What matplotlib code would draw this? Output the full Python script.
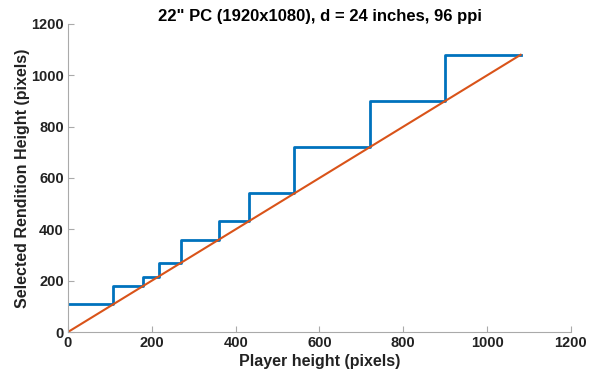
import matplotlib
matplotlib.use("Agg")
import matplotlib.pyplot as plt
import numpy as np

plt.rcParams['font.family'] = ['Liberation Sans', 'DejaVu Sans']
plt.rcParams['font.weight'] = 'bold'

player_height = [0, 108, 180, 216, 270, 360, 432, 540, 720, 900, 1080]
rendition_height = [108, 180, 216, 270, 360, 432, 540, 720, 900, 1080, 1080]
diag = [0, 1080]

fig = plt.figure(figsize=(5.98, 3.79), dpi=100)
ax = fig.add_axes([0.1137, 0.124, 0.841, 0.8127])
ax.step(player_height, rendition_height, where='post', color='#0072BD', lw=2.0)
ax.plot(diag, diag, color='#D95319', lw=1.5)

ax.set_xlim(0, 1200)
ax.set_ylim(0, 1200)
ax.set_xticks(np.arange(0, 1201, 200))
ax.set_yticks(np.arange(0, 1201, 200))
for s in ['top', 'right']:
    ax.spines[s].set_visible(False)
for s in ['left', 'bottom']:
    ax.spines[s].set_color('#aaaaaa')
    ax.spines[s].set_linewidth(0.8)
ax.tick_params(direction='in', length=4, color='#aaaaaa', labelsize=10.5, labelcolor='#222222', pad=3)
for lab in ax.get_xticklabels() + ax.get_yticklabels():
    lab.set_fontweight('bold')
ax.set_xlabel('Player height (pixels)', fontsize=11.5, fontweight='bold', color='#222222', labelpad=3)
ax.set_ylabel('Selected Rendition Height (pixels)', fontsize=11.5, fontweight='bold', color='#222222', labelpad=1)
ax.set_title('22" PC (1920x1080), d = 24 inches, 96 ppi', fontsize=12, fontweight='bold', pad=1.5)

fig.savefig('out.png', dpi=100)
